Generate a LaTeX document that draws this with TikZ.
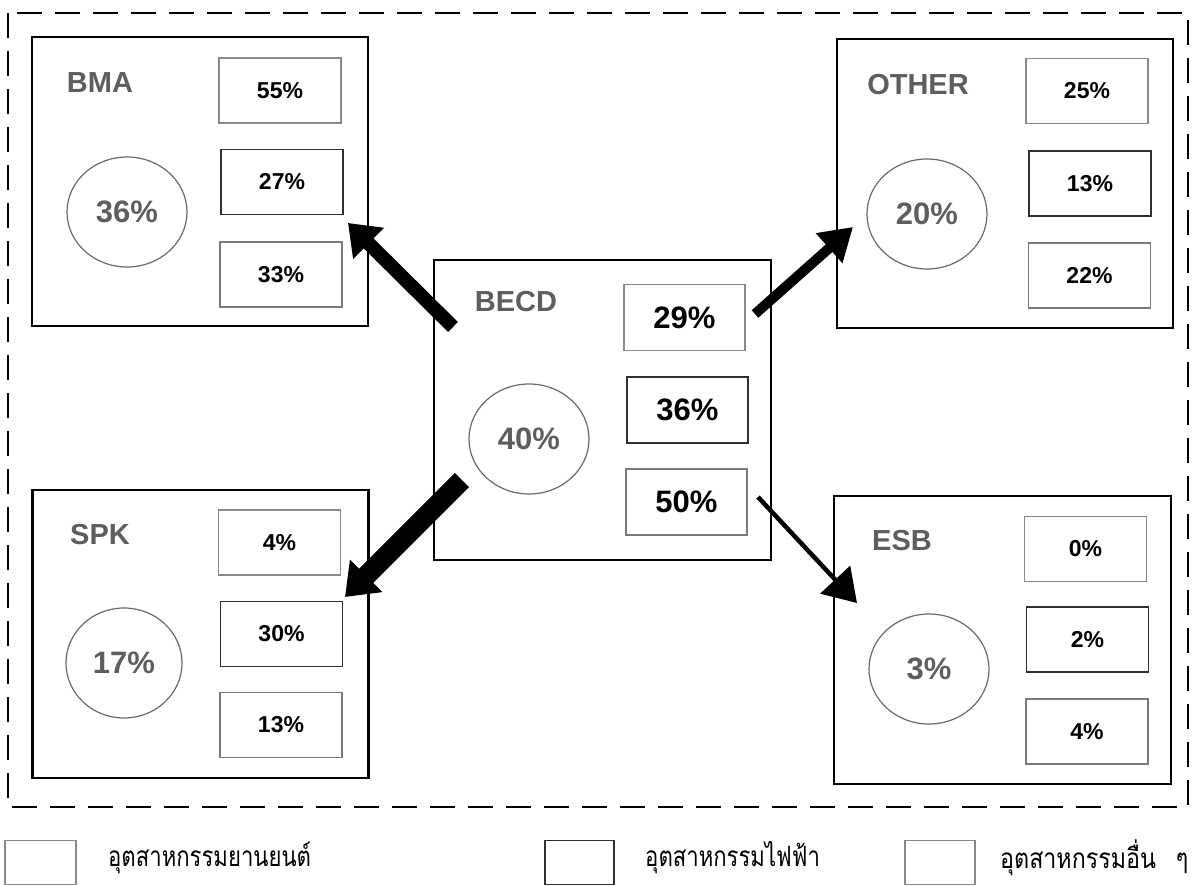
\documentclass[tikz,border=0pt]{standalone}
\usepackage{fontspec}
\setmainfont{Liberation Sans}
\newfontfamily\thaifont[Script=Thai]{Loma}
\usetikzlibrary{arrows.meta,shapes.geometric}
\definecolor{lblgray}{HTML}{5E5E5E}
\definecolor{autoedge}{HTML}{8A8A8A}
\definecolor{elecedge}{HTML}{303030}
\definecolor{othedge}{HTML}{7A7A7A}
\definecolor{circedge}{HTML}{6A6A6A}
\tikzset{
  panel/.style={draw=black, line width=2.6pt, minimum width=336pt, minimum height=289pt, inner sep=0pt},
  autobox/.style={draw=autoedge, line width=1.2pt, minimum width=122pt, minimum height=65pt, inner sep=0pt, font=\fontsize{23}{27}\selectfont\bfseries},
  elecbox/.style={draw=elecedge, line width=1.8pt, minimum width=122pt, minimum height=65pt, inner sep=0pt, font=\fontsize{23}{27}\selectfont\bfseries},
  othbox/.style={draw=othedge, line width=1.3pt, minimum width=122pt, minimum height=65pt, inner sep=0pt, font=\fontsize{23}{27}\selectfont\bfseries},
  bigtext/.style={font=\fontsize{31}{36}\selectfont\bfseries},
  share/.style={ellipse, draw=circedge, line width=1.2pt, minimum width=120pt, minimum height=110pt, inner sep=0pt, text=lblgray, font=\fontsize{31}{36}\selectfont\bfseries},
  firm/.style={text=lblgray, font=\fontsize{29}{34}\selectfont\bfseries, inner sep=0pt},
  legtext/.style={anchor=west, inner sep=0pt, font=\thaifont\fontsize{28}{32}\selectfont},
  flow/.style={draw=black}
}
\begin{document}
\begin{tikzpicture}[x=1pt,y=-1pt]
\useasboundingbox (0,0) rectangle (1194,886);
% outer dashed frame
\draw[line width=2.8pt, dash pattern=on 25pt off 13pt] (8,13) rectangle (1188,807);

% BMA
\node[panel] (bma) at (200,181.5) {};
\node[firm] (bmal) at (100,83) {BMA};
\node[autobox] (bma1) at (280,90.5) {55\%};
\node[elecbox] (bma2) at (282,182) {27\%};
\node[othbox] (bma3) at (281,274.5) {33\%};
\node[share] (bmac) at (127,212) {36\%};

% OTHER
\node[panel] (oth) at (1005,183.5) {};
\node[firm] (othl) at (918,85) {OTHER};
\node[autobox] (oth1) at (1087,91) {25\%};
\node[elecbox] (oth2) at (1090,183.5) {13\%};
\node[othbox] (oth3) at (1089.5,275.5) {22\%};
\node[share] (othc) at (927,214) {20\%};

% SPK
\node[panel, minimum height=288pt] (spk) at (200.5,634) {};
\node[firm] (spkl) at (100,535) {SPK};
\node[autobox] (spk1) at (279.5,542.5) {4\%};
\node[elecbox] (spk2) at (281.5,634) {30\%};
\node[othbox] (spk3) at (281,725) {13\%};
\node[share, minimum width=116pt] (spkc) at (124,663) {17\%};

% ESB
\node[panel, minimum width=337pt, minimum height=288pt] (esb) at (1002.5,640) {};
\node[firm] (esbl) at (902,541) {ESB};
\node[autobox] (esb1) at (1085.5,549) {0\%};
\node[elecbox] (esb2) at (1087.5,639.5) {2\%};
\node[othbox] (esb3) at (1087,731.5) {4\%};
\node[share] (esbc) at (929,669) {3\%};

% BECD
\node[panel, minimum width=337pt, minimum height=300pt, line width=2.2pt] (becd) at (602.5,410) {};
\node[firm] (becdl) at (516,302) {BECD};
\node[autobox, bigtext, minimum width=121pt, minimum height=66pt] (becd1) at (684.5,317.5) {29\%};
\node[elecbox, bigtext, minimum width=121pt, minimum height=66pt] (becd2) at (687.5,410) {36\%};
\node[othbox, bigtext, minimum width=121pt, minimum height=66pt] (becd3) at (686.5,502) {50\%};
\node[share] (becdc) at (529,439) {40\%};

% arrow ends
\coordinate (t1) at (453,327); \coordinate (h1) at (348,223);
\coordinate (t2) at (755,314); \coordinate (h2) at (853,227);
\coordinate (t3) at (462,480); \coordinate (h3) at (345,597);
\coordinate (t4) at (758,497); \coordinate (h4) at (857,603);
\draw[flow, line width=14pt, -{Triangle[length=29pt,width=42pt]}] (t1) -- (h1);
\draw[flow, line width=10pt, -{Triangle[length=32pt,width=38pt]}] (t2) -- (h2);
\draw[flow, line width=20pt, -{Triangle[length=30pt,width=44pt]}] (t3) -- (h3);
\draw[flow, line width=4.5pt, -{Triangle[length=32pt,width=40pt]}] (t4) -- (h4);

% legend
\node[draw=autoedge, line width=1.2pt, minimum width=71pt, minimum height=44pt, inner sep=0pt] (lg1) at (40.5,862.5) {};
\node[legtext] (lt1) at (108,858) {\scalebox{0.79}[1]{อุตสาหกรรมยานยนต์}};
\node[draw=elecedge, line width=1.5pt, minimum width=69pt, minimum height=44pt, inner sep=0pt] (lg2) at (579.5,862.5) {};
\node[legtext] (lt2) at (645,858) {\scalebox{0.79}[1]{อุตสาหกรรมไฟฟ้า}};
\node[draw=autoedge, line width=1.2pt, minimum width=70pt, minimum height=44pt, inner sep=0pt] (lg3) at (940,862.5) {};
\node[legtext] (lt3) at (1000,858) {\scalebox{0.83}[1]{อุตสาหกรรมอื่น\hspace{24pt}ๆ}};
\end{tikzpicture}
\end{document}
